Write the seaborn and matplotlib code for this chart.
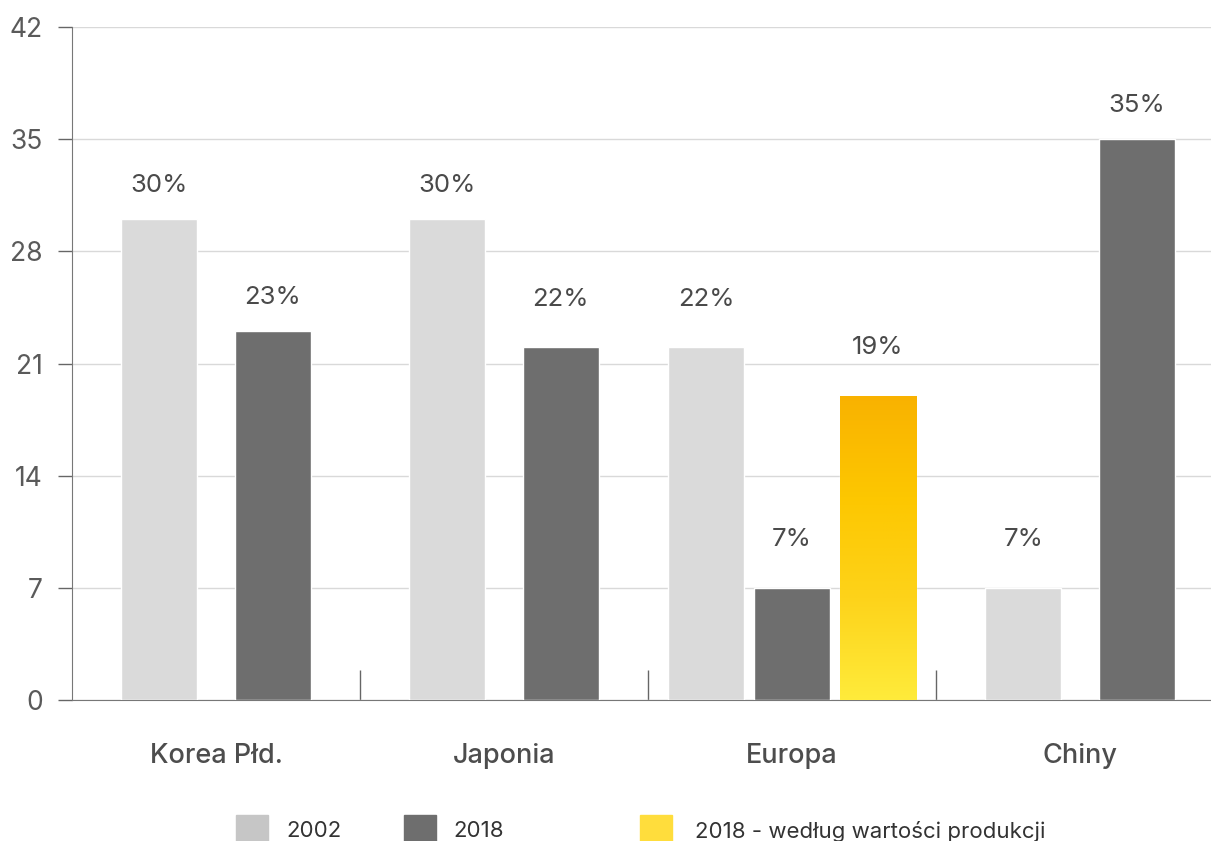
import numpy as np
import pandas as pd
import seaborn as sns
import matplotlib.pyplot as plt
from matplotlib.patches import Rectangle
from matplotlib.colors import LinearSegmentedColormap, to_rgb

regions = ["Korea Płd.", "Japonia", "Europa", "Chiny"]
share_2002 = [30, 30, 22, 7]
share_2018 = [23, 22, 7, 35]
share_2018_value = [None, None, 19, None]   # only Europe
series_names = ["2002", "2018", "2018 - według wartości produkcji"]
yticks = [0, 7, 14, 21, 28, 35, 42]

colors = {"2002": "#dadada", "2018": "#6e6e6e",
          "2018 - według wartości produkcji": "#fdc700"}
legend_colors = ["#c6c6c6", "#6e6e6e", "#ffdd3c"]

# build long table with dodge offsets per region (2 or 3 bars in group)
rows = []
for i, reg in enumerate(regions):
    vals = [(series_names[0], share_2002[i]), (series_names[1], share_2018[i])]
    if share_2018_value[i] is not None:
        vals.append((series_names[2], share_2018_value[i]))
    n = len(vals)
    step = 0.393 if n == 2 else 0.298
    for j, (s, v) in enumerate(vals):
        rows.append({"region": reg, "series": s, "value": v,
                     "pos": i + (j - (n - 1) / 2) * step})
df = pd.DataFrame(rows)

sns.set_style("white")
plt.rcParams["font.family"] = ["Inter", "DejaVu Sans"]

fig = plt.figure(figsize=(12.11, 8.41), dpi=100)
ax = fig.add_axes([72 / 1211, 1 - 700 / 841, 1 - 72 / 1211, (700 - 27) / 841])

sns.barplot(data=df, x="pos", y="value", hue="series", native_scale=True,
            dodge=False, width=0.264 / 0.298, palette=colors, saturation=1,
            legend=False, ax=ax, zorder=3)

# gradient fill for the yellow bar
grad = np.linspace(0, 1, 256).reshape(-1, 1)
ycmap = LinearSegmentedColormap.from_list("y", ["#ffeb3b", "#fdd31a", "#fdc700", "#f9b200"])
for p in ax.patches:
    if tuple(p.get_facecolor()[:3]) == to_rgb("#fdc700"):
        x0, y0 = p.get_x(), p.get_y()
        w, h = p.get_width(), p.get_height()
        im = ax.imshow(grad, cmap=ycmap, aspect="auto", origin="lower",
                       extent=[x0, x0 + w, y0, y0 + h], zorder=3)
        im.set_clip_path(p)

# value labels (small bars get a bit more room, as in the original)
for _, r in df.iterrows():
    off = 2.1 if r["value"] >= 23 else 3.0
    ax.text(r["pos"], r["value"] + off, f"{r['value']}%", ha="center", va="center",
            fontsize=18.5, color="#4a4a4a", zorder=4)

ax.set_xlim(-0.5, (1211 - 72) / 288 - 0.5)
ax.set_ylim(0, 42)
ax.set_yticks(yticks)
ax.set_xticks(range(len(regions)))
ax.set_xticklabels(regions, fontweight="medium")
ax.set_xticks([0.5, 1.5, 2.5], minor=True)
ax.tick_params(axis="x", which="major", length=0, pad=31, labelsize=19.5, labelcolor="#4d4d4d")
ax.tick_params(axis="x", which="minor", bottom=True, direction="in", length=21.6,
               width=1, color="#666666")
ax.tick_params(axis="y", length=10, width=1, color="#666666", pad=11, labelsize=19,
               labelcolor="#5a5a5a", left=True)
ax.set_xlabel("")
ax.set_ylabel("")
ax.grid(axis="y", color="#d9d9d9", lw=1, zorder=0)
ax.set_axisbelow(True)
for s in ["top", "right"]:
    ax.spines[s].set_visible(False)
ax.spines["left"].set_color("#777777")
ax.spines["bottom"].set_color("#777777")

# legend drawn in figure space
leg_x = [236, 404, 640]
txt_x = [286, 453, 695]
for lx, tx, c, name in zip(leg_x, txt_x, legend_colors, series_names):
    fig.patches.append(Rectangle((lx / 1211, 0), 32 / 1211, 26 / 841, color=c,
                                 transform=fig.transFigure))
    fig.text(tx / 1211, 1 - 831 / 841, name, fontsize=16, color="#333333",
             va="center", ha="left")

fig.savefig("out.png", dpi=100)
